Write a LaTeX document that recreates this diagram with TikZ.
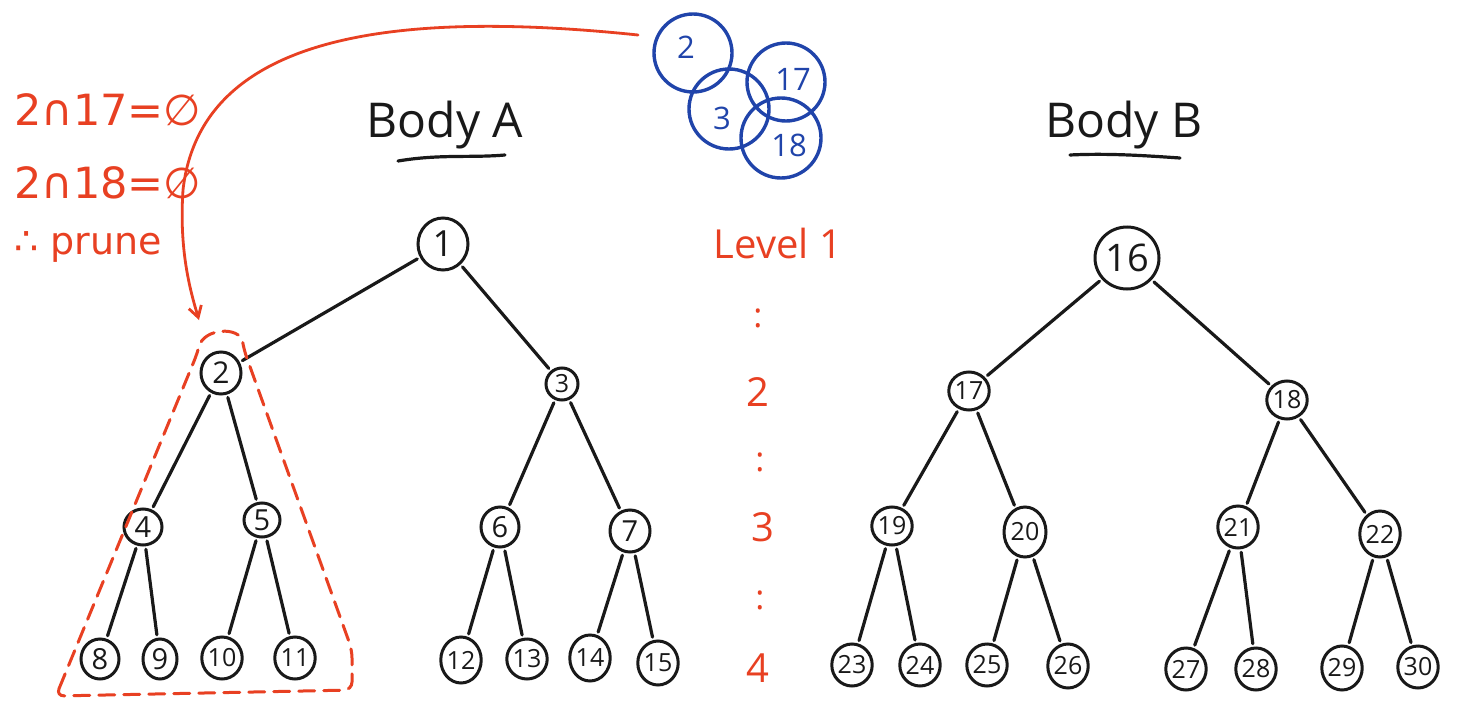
\documentclass[tikz,border=0pt]{standalone}
\usepackage{fontspec}
\setmainfont{Open Sans}
\newfontfamily\symf{DejaVu Sans}
\usetikzlibrary{shapes.geometric,arrows.meta}
\definecolor{penred}{RGB}{232,64,34}
\definecolor{penblue}{RGB}{32,68,170}
\definecolor{ink}{RGB}{25,25,25}
\tikzset{
  tn/.style={draw=ink, line width=3pt, ellipse, inner sep=0pt, text=ink,
             font=\fontsize{25}{25}\selectfont},
  big/.style={font=\fontsize{29}{29}\selectfont},
  sz/.style 2 args={minimum width=#1pt, minimum height=#2pt},
  br/.style={draw=ink, line width=3.2pt, line cap=round, shorten <=3pt, shorten >=3pt},
  bc/.style={draw=penblue, line width=3.4pt, circle, inner sep=0pt},
  btext/.style={text=penblue, inner sep=0pt, font=\fontsize{31}{31}\selectfont},
  rtext/.style={text=penred, inner sep=0pt, anchor=west},
  lvl/.style={text=penred, inner sep=0pt, font=\fontsize{40}{40}\selectfont},
  dots/.style={text=penred, inner sep=0pt, font=\fontsize{34}{34}\selectfont},
  title/.style={text=ink, inner sep=0pt, font=\fontsize{48}{48}\selectfont},
  uline/.style={draw=ink, line width=3.2pt, line cap=round},
}
\begin{document}
\begin{tikzpicture}[x=1pt,y=-1pt]
\useasboundingbox[fill=white] (0,0) rectangle (1459,717);

% titles
\node[title] (tA) at (445,125) {Body A};
\node[title] (tB) at (1124,125) {Body B};
\coordinate (uA1) at (398,161); \coordinate (uA2) at (505,155);
\coordinate (uB1) at (1070,155); \coordinate (uB2) at (1180,158);
\draw[uline] (uA1) .. controls (440,154) and (470,158) .. (uA2);
\draw[uline] (uB1) .. controls (1110,153) and (1150,156) .. (uB2);

% Body A tree
\node[tn, sz={50}{52}, font=\fontsize{36}{36}\selectfont] (n1) at (443,244) {1};
\node[tn, sz={40}{42}, font=\fontsize{30}{30}\selectfont] (n2) at (221,373) {2};
\node[tn, sz={32}{32}, font=\fontsize{25}{25}\selectfont] (n3) at (562,384) {3};
\node[tn, big, sz={38}{36}] (n4) at (143,527) {4};
\node[tn, big, sz={36}{34}] (n5) at (262,520) {5};
\node[tn, big, sz={38}{40}] (n6) at (500,527) {6};
\node[tn, big, sz={40}{42}] (n7) at (630,531) {7};
\node[tn, big, sz={38}{40}] (n8) at (100,659) {8};
\node[tn, big, sz={34}{40}] (n9) at (160,659) {9};
\node[tn, sz={32}{42}] (n10) at (222,658) {10};
\node[tn, sz={40}{42}] (n11) at (295,658) {11};
\node[tn, sz={38}{46}] (n12) at (461,660) {12};
\node[tn, sz={32}{40}] (n13) at (527,659) {13};
\node[tn, sz={38}{46}] (n14) at (590,658) {14};
\node[tn, sz={38}{44}] (n15) at (658,663) {15};

\draw[br] (n1) -- (n2);
\draw[br] (n1) -- (n3);
\draw[br] (n2) -- (n4);
\draw[br] (n2) -- (n5);
\draw[br] (n3) -- (n6);
\draw[br] (n3) -- (n7);
\draw[br] (n4) -- (n8);
\draw[br] (n4) -- (n9);
\draw[br] (n5) -- (n10);
\draw[br] (n5) -- (n11);
\draw[br] (n6) -- (n12);
\draw[br] (n6) -- (n13);
\draw[br] (n7) -- (n14);
\draw[br] (n7) -- (n15);

% Body B tree
\node[tn, sz={64}{62}, font=\fontsize{38}{38}\selectfont] (n16) at (1127,258) {16};
\node[tn, sz={38}{38}] (n17) at (969,391) {17};
\node[tn, sz={30}{38}] (n18) at (1287,400) {18};
\node[tn, sz={30}{38}] (n19) at (892,526) {19};
\node[tn, sz={42}{50}] (n20) at (1025,532) {20};
\node[tn, sz={34}{42}] (n21) at (1238,527) {21};
\node[tn, sz={40}{46}] (n22) at (1380,534) {22};
\node[tn, sz={38}{42}] (n23) at (852,665) {23};
\node[tn, sz={34}{42}] (n24) at (920,665) {24};
\node[tn, sz={34}{42}] (n25) at (987,665) {25};
\node[tn, sz={38}{44}] (n26) at (1068,666) {26};
\node[tn, sz={36}{42}] (n27) at (1186,669) {27};
\node[tn, sz={34}{42}] (n28) at (1256,669) {28};
\node[tn, sz={38}{44}] (n29) at (1342,668) {29};
\node[tn, sz={40}{42}] (n30) at (1418,667) {30};

\draw[br] (n16) -- (n17);
\draw[br] (n16) -- (n18);
\draw[br] (n17) -- (n19);
\draw[br] (n17) -- (n20);
\draw[br] (n18) -- (n21);
\draw[br] (n18) -- (n22);
\draw[br] (n19) -- (n23);
\draw[br] (n19) -- (n24);
\draw[br] (n20) -- (n25);
\draw[br] (n20) -- (n26);
\draw[br] (n21) -- (n27);
\draw[br] (n21) -- (n28);
\draw[br] (n22) -- (n29);
\draw[br] (n22) -- (n30);

% level labels
\node[lvl] (L1) at (778,243) {Level 1};
\node[dots] (d1) at (758,318) {:};
\node[lvl] (L2) at (758,392) {2};
\node[dots] (d2) at (760,462) {:};
\node[lvl] (L3) at (763,527) {3};
\node[dots] (d3) at (760,600) {:};
\node[lvl] (L4) at (758,668) {4};

% red notes
\node[rtext, font=\symf\fontsize{43}{43}\selectfont] (r1) at (14,110) {2∩17=∅};
\node[rtext, font=\symf\fontsize{43}{43}\selectfont] (r2) at (14,183) {2∩18=∅};
\node[rtext, font=\symf\fontsize{38}{38}\selectfont] (r3) at (14,247) {∴ prune};

% red arrow
\coordinate (as) at (638,35);
\coordinate (am) at (183,190);
\coordinate (ae) at (199,320);
\draw[penred, line width=2.8pt, line cap=round, -{Straight Barb[length=11pt,width=13pt,line width=2.8pt]}]
  (as) .. controls (380,8) and (200,40) .. (am) .. controls (179,250) and (190,290) .. (ae);

% red dashed triangle
\coordinate (tl) at (56,696);
\coordinate (tal) at (197,354);
\coordinate (tar) at (244,350);
\coordinate (tr) at (352,690);
\draw[penred, line width=3pt, dash pattern=on 16pt off 9pt, line cap=round, rounded corners=8pt]
  (tl) -- (tal) .. controls (204,328) and (240,326) .. (tar) -- (352,650) -- (tr) -- cycle;

% blue circles
\node[bc, minimum size=78pt] (b2) at (693,53) {};
\node[bc, minimum size=80pt] (b3) at (729,109) {};
\node[bc, minimum size=78pt] (b17) at (786,82) {};
\node[bc, minimum size=80pt] (b18) at (781,138) {};
\node[btext] (t2) at (686,47) {2};
\node[btext] (t3) at (722,118) {3};
\node[btext] (t17) at (793,79) {17};
\node[btext] (t18) at (789,145) {18};
\end{tikzpicture}
\end{document}
